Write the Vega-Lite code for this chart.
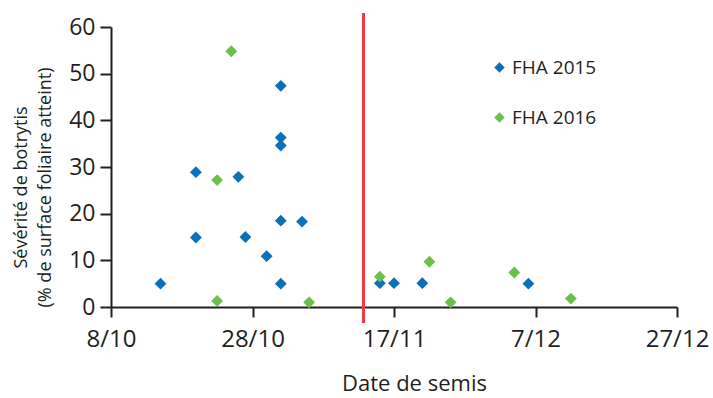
{
  "$schema": "https://vega.github.io/schema/vega-lite/v6.json",
  "autosize": "none",
  "padding": {"left": 111, "top": 27, "right": 36, "bottom": 91},
  "width": 566,
  "height": 280,
  "config": {
    "view": {"stroke": null},
    "font": "Open Sans",
    "axis": {
      "domainColor": "#231f20",
      "domainWidth": 2,
      "tickColor": "#231f20",
      "tickWidth": 2,
      "labelColor": "#231f20",
      "titleColor": "#231f20",
      "labelFont": "Open Sans",
      "titleFont": "Open Sans",
      "titleFontWeight": "normal",
      "grid": false
    },
    "legend": {"labelFont": "Open Sans", "labelColor": "#231f20"}
  },
  "data": {
    "values": [
      {"date": "2015/10/15", "severite": 5.0, "serie": "FHA 2015"},
      {"date": "2015/10/20", "severite": 28.9, "serie": "FHA 2015"},
      {"date": "2015/10/20", "severite": 14.9, "serie": "FHA 2015"},
      {"date": "2015/10/26", "severite": 27.9, "serie": "FHA 2015"},
      {"date": "2015/10/27", "severite": 15.0, "serie": "FHA 2015"},
      {"date": "2015/10/30", "severite": 10.9, "serie": "FHA 2015"},
      {"date": "2015/11/01", "severite": 47.4, "serie": "FHA 2015"},
      {"date": "2015/11/01", "severite": 36.3, "serie": "FHA 2015"},
      {"date": "2015/11/01", "severite": 34.6, "serie": "FHA 2015"},
      {"date": "2015/11/01", "severite": 18.5, "serie": "FHA 2015"},
      {"date": "2015/11/01", "severite": 5.0, "serie": "FHA 2015"},
      {"date": "2015/11/04", "severite": 18.3, "serie": "FHA 2015"},
      {"date": "2015/11/15", "severite": 5.1, "serie": "FHA 2015"},
      {"date": "2015/11/17", "severite": 5.1, "serie": "FHA 2015"},
      {"date": "2015/11/21", "severite": 5.1, "serie": "FHA 2015"},
      {"date": "2015/12/06", "severite": 5.0, "serie": "FHA 2015"},
      {"date": "2015/10/25", "severite": 54.8, "serie": "FHA 2016"},
      {"date": "2015/10/23", "severite": 27.2, "serie": "FHA 2016"},
      {"date": "2015/10/23", "severite": 1.3, "serie": "FHA 2016"},
      {"date": "2015/11/05", "severite": 1.0, "serie": "FHA 2016"},
      {"date": "2015/11/15", "severite": 6.5, "serie": "FHA 2016"},
      {"date": "2015/11/22", "severite": 9.7, "serie": "FHA 2016"},
      {"date": "2015/11/25", "severite": 1.0, "serie": "FHA 2016"},
      {"date": "2015/12/04", "severite": 7.4, "serie": "FHA 2016"},
      {"date": "2015/12/12", "severite": 1.8, "serie": "FHA 2016"}
    ]
  },
  "layer": [
    {
      "mark": {"type": "rule", "color": "#ee3b45", "strokeWidth": 2, "clip": false},
      "encoding": {
        "x": {"datum": {"year": 2015, "month": 11, "date": 12, "hours": 16}, "type": "temporal"},
        "y": {"datum": 62.9, "type": "quantitative"},
        "y2": {"datum": -3.4}
      }
    },
    {
      "mark": {"type": "point", "shape": "diamond", "filled": true, "opacity": 1, "size": 140},
      "encoding": {
        "x": {
          "field": "date",
          "type": "temporal",
          "scale": {
            "domain": [
              {"year": 2015, "month": 10, "date": 8},
              {"year": 2015, "month": 12, "date": 27}
            ],
            "nice": false
          },
          "axis": {
            "values": [
              {"year": 2015, "month": 10, "date": 8},
              {"year": 2015, "month": 10, "date": 28},
              {"year": 2015, "month": 11, "date": 17},
              {"year": 2015, "month": 12, "date": 7},
              {"year": 2015, "month": 12, "date": 27}
            ],
            "format": "%-d/%-m",
            "labelFontSize": 24,
            "tickSize": 10,
            "labelPadding": 10,
            "title": "Date de semis",
            "titleFontSize": 22,
            "titleX": 303,
            "titleY": 83,
            "titleBaseline": "alphabetic",
            "labelFlush": false
          }
        },
        "y": {
          "field": "severite",
          "type": "quantitative",
          "scale": {"domain": [0, 60], "nice": false},
          "axis": {
            "values": [0, 10, 20, 30, 40, 50, 60],
            "labelFontSize": 23,
            "tickSize": 11,
            "labelPadding": 5,
            "title": ["Sévérité de botrytis", "(% de surface foliaire atteint)"],
            "titleFontSize": 18,
            "titleLineHeight": 24,
            "titleBaseline": "middle",
            "titleAlign": "center",
            "titleAngle": -90,
            "titleX": -90,
            "titleY": 160,
            "labelFlush": false
          }
        },
        "color": {
          "field": "serie",
          "type": "nominal",
          "scale": {"domain": ["FHA 2015", "FHA 2016"], "range": ["#0b6fba", "#6cbf4a"]},
          "legend": {
            "title": null,
            "orient": "none",
            "legendX": 379,
            "legendY": 31,
            "padding": 0,
            "symbolType": "diamond",
            "symbolSize": 110,
            "symbolOpacity": 1,
            "labelFontSize": 19,
            "labelOffset": 3,
            "rowPadding": 30
          }
        }
      }
    }
  ]
}
